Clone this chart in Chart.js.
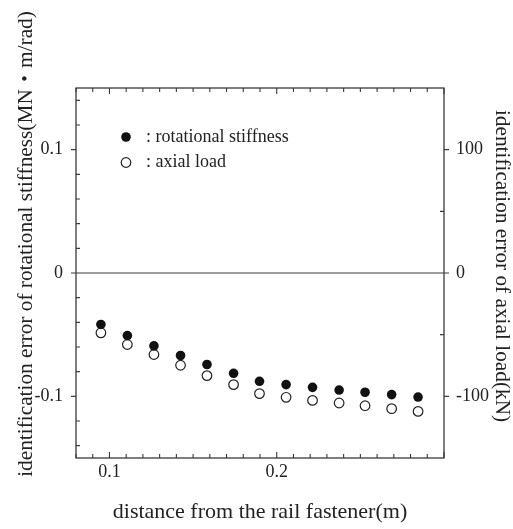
<!DOCTYPE html>
<html>
<head>
<meta charset="utf-8">
<script src="https://cdn.jsdelivr.net/npm/chart.js@4/dist/chart.umd.min.js"></script>
<style>
  body { margin: 0; background: #fff; }
</style>
</head>
<body>
<canvas id="errChart" width="513" height="529"></canvas>
<script>
// distance from the rail fastener (m)
const distances = [0.0949, 0.1107, 0.1266, 0.1425, 0.1583, 0.1742, 0.1897, 0.2056, 0.2214, 0.2373, 0.2528, 0.2687, 0.2845];
// identification error of rotational stiffness (MN*m/rad) - filled dots, left axis
const rotStiffnessErr = [-0.0417, -0.0507, -0.0591, -0.0669, -0.0742, -0.0813, -0.0878, -0.0905, -0.0927, -0.0949, -0.0967, -0.0986, -0.1006];
// identification error of axial load (kN) - open dots, right axis
const axialLoadErr = [-48.5, -58.0, -66.1, -74.8, -83.2, -90.5, -97.8, -100.8, -103.3, -105.4, -107.6, -110.0, -112.2];

const xTickLabels = [0.1, 0.2];
const leftTickLabels = [-0.1, 0, 0.1];
const rightTickLabels = [-100, 0, 100];

const serif = "'Liberation Serif', 'DejaVu Serif', serif";
const textColor = "#222";
const lineColor = "#3a3a3a";

// frame, zero line, inward/outward tick marks, legend and the two y titles
const decorations = {
  id: "decorations",
  afterDraw(chart) {
    const ctx = chart.ctx;
    const a = chart.chartArea;
    const xs = chart.scales.x;
    const yl = chart.scales.y;
    const yr = chart.scales.y1;
    ctx.save();
    ctx.strokeStyle = lineColor;
    ctx.lineWidth = 1.3;
    ctx.strokeRect(a.left, a.top, a.right - a.left, a.bottom - a.top);

    // zero line
    ctx.lineWidth = 1;
    const y0 = yl.getPixelForValue(0);
    ctx.beginPath();
    ctx.moveTo(a.left, y0);
    ctx.lineTo(a.right, y0);
    ctx.stroke();

    ctx.lineWidth = 1.1;
    ctx.beginPath();
    // top and bottom ticks, every 0.01
    for (let i = 8; i <= 30; i++) {
      const px = xs.getPixelForValue(i / 100);
      const len = i % 10 === 0 ? 6 : 4;
      ctx.moveTo(px, a.bottom);
      ctx.lineTo(px, a.bottom - len);
      ctx.moveTo(px, a.top);
      ctx.lineTo(px, a.top + len);
    }
    // left ticks, every 0.02, majors outward
    for (let i = -7; i <= 7; i++) {
      const py = yl.getPixelForValue(i * 0.02);
      if (i % 5 === 0) {
        ctx.moveTo(a.left, py);
        ctx.lineTo(a.left - 5, py);
      } else {
        ctx.moveTo(a.left, py);
        ctx.lineTo(a.left + 4, py);
      }
    }
    // right ticks, every 50, majors outward
    for (let v = -100; v <= 100; v += 50) {
      const py = yr.getPixelForValue(v);
      if (v % 100 === 0) {
        ctx.moveTo(a.right, py);
        ctx.lineTo(a.right + 5, py);
      } else {
        ctx.moveTo(a.right, py);
        ctx.lineTo(a.right - 4, py);
      }
    }
    ctx.stroke();

    // legend
    ctx.fillStyle = "#111";
    ctx.beginPath();
    ctx.arc(126, 137, 4.8, 0, Math.PI * 2);
    ctx.fill();
    ctx.fillStyle = "#fff";
    ctx.strokeStyle = "#222";
    ctx.lineWidth = 1.2;
    ctx.beginPath();
    ctx.arc(126, 162.5, 4.8, 0, Math.PI * 2);
    ctx.fill();
    ctx.stroke();
    ctx.fillStyle = textColor;
    ctx.font = "18px " + serif;
    ctx.textAlign = "left";
    ctx.textBaseline = "middle";
    ctx.fillText(": rotational stiffness", 146, 137);
    ctx.fillText(": axial load", 146, 162);

    // y axis titles
    ctx.font = "21.3px " + serif + ", 'Noto Sans CJK JP'";
    ctx.textAlign = "center";
    ctx.save();
    ctx.translate(26, 244);
    ctx.rotate(-Math.PI / 2);
    ctx.fillText("identification error of rotational stiffness(MN\u30FBm/rad)", 0, 0);
    ctx.restore();
    ctx.save();
    ctx.translate(502, 266);
    ctx.rotate(Math.PI / 2);
    ctx.fillText("identification error of axial load(kN)", 0, 0);
    ctx.restore();
    ctx.restore();
  },
};

function setTicks(values) {
  return function (scale) {
    scale.ticks = values.map((v) => ({ value: v }));
  };
}

new Chart(document.getElementById("errChart").getContext("2d"), {
  type: "scatter",
  data: {
    datasets: [
      {
        label: "rotational stiffness",
        data: distances.map((d, i) => ({ x: d, y: rotStiffnessErr[i] })),
        yAxisID: "y",
        pointRadius: 4.8,
        pointBackgroundColor: "#111",
        pointBorderColor: "#111",
        pointBorderWidth: 0,
      },
      {
        label: "axial load",
        data: distances.map((d, i) => ({ x: d, y: axialLoadErr[i] })),
        yAxisID: "y1",
        pointRadius: 4.8,
        pointBackgroundColor: "#fff",
        pointBorderColor: "#222",
        pointBorderWidth: 1.2,
      },
    ],
  },
  options: {
    responsive: false,
    animation: false,
    layout: { padding: { top: 88, left: 0, right: 0, bottom: 0 } },
    plugins: {
      legend: { display: false },
      tooltip: { enabled: false },
    },
    scales: {
      x: {
        type: "linear",
        position: "bottom",
        min: 0.08,
        max: 0.3,
        afterBuildTicks: setTicks(xTickLabels),
        afterFit: (s) => { s.height = 71; },
        grid: { display: false },
        border: { display: false },
        ticks: {
          padding: -5,
          color: textColor,
          font: { family: serif, size: 18 },
          callback: (v) => String(v),
        },
        title: {
          display: true,
          text: "distance from the rail fastener(m)",
          color: textColor,
          font: { family: serif, size: 22 },
          padding: { top: 0, bottom: 4 },
        },
      },
      y: {
        type: "linear",
        position: "left",
        min: -0.15,
        max: 0.15,
        afterBuildTicks: setTicks(leftTickLabels),
        afterFit: (s) => { s.width = 76; },
        grid: { display: false },
        border: { display: false },
        ticks: {
          padding: 5,
          color: textColor,
          font: { family: serif, size: 18 },
          callback: (v) => String(v),
        },
      },
      y1: {
        type: "linear",
        position: "right",
        min: -150,
        max: 150,
        afterBuildTicks: setTicks(rightTickLabels),
        afterFit: (s) => { s.width = 69; },
        grid: { display: false },
        border: { display: false },
        ticks: {
          padding: 4,
          color: textColor,
          font: { family: serif, size: 18 },
          callback: (v) => String(v),
        },
      },
    },
  },
  plugins: [decorations],
});
</script>
</body>
</html>
